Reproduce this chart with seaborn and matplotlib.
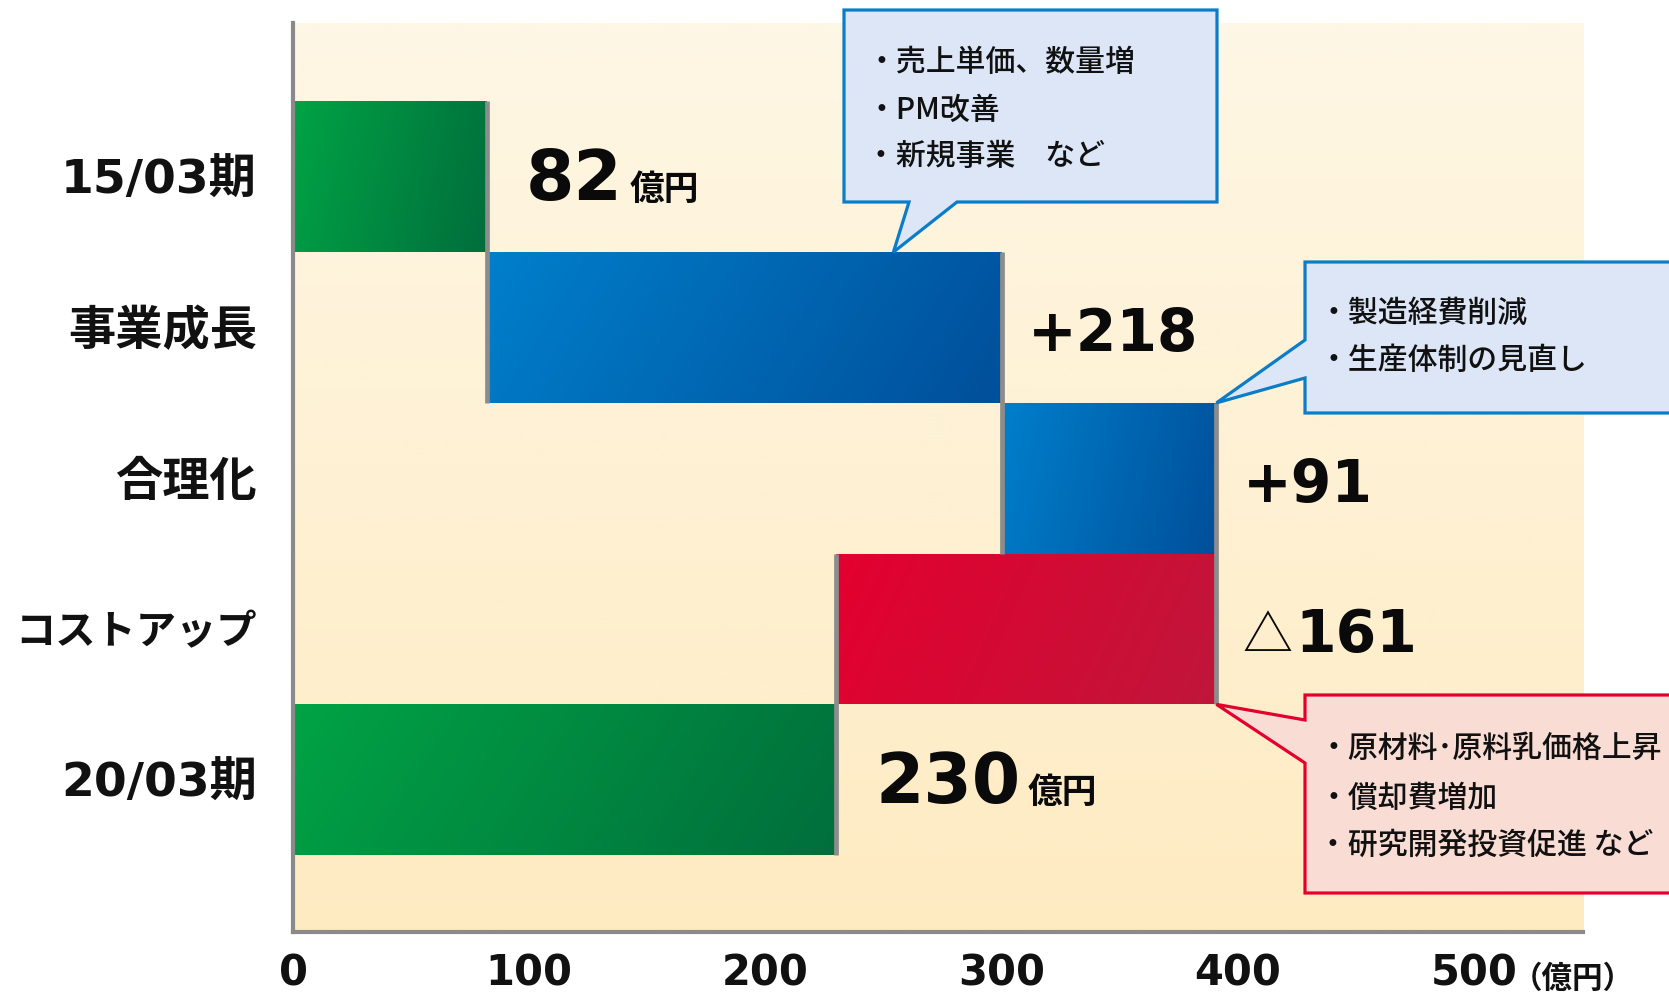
import numpy as np
import pandas as pd
import matplotlib
matplotlib.use("Agg")
import matplotlib.pyplot as plt
from matplotlib import font_manager
from matplotlib.colors import LinearSegmentedColormap
from matplotlib.patches import Polygon
import seaborn as sns

# ---- data -------------------------------------------------------------
categories = ["15/03期", "事業成長", "合理化", "コストアップ", "20/03期"]
amounts = [82, 218, 91, -161, 230]
kinds = ["total", "change", "change", "change", "total"]
x_ticks = [0, 100, 200, 300, 400, 500]
unit = "億円"

notes_growth = ["・売上単価、数量増", "・PM改善", "・新規事業　など"]
notes_rational = ["・製造経費削減", "・生産体制の見直し"]
notes_cost = ["・原材料･原料乳価格上昇", "・償却費増加", "・研究開発投資促進 など"]

# ---- waterfall geometry from the amounts --------------------------------
starts, ends = [], []
level = 0
for amt, kind in zip(amounts, kinds):
    if kind == "total":
        s, e = 0, amt
    else:
        s, e = level, level + amt
    level = e
    starts.append(s)
    ends.append(e)
lows = [min(s, e) for s, e in zip(starts, ends)]
highs = [max(s, e) for s, e in zip(starts, ends)]
running = ends[:-1]  # connector levels between consecutive rows


def value_text(amt, kind):
    if kind == "total":
        return f"{amt}"
    return f"+{amt}" if amt > 0 else f"{abs(amt)}"


# medium weight for the note text when the CJK family provides it
cjk_weights = {f.weight for f in font_manager.fontManager.ttflist
               if f.name == "Noto Sans CJK JP"}
NOTE_WEIGHT = 500 if 500 in cjk_weights or "medium" in cjk_weights else "bold"

# ---- figure -------------------------------------------------------------
W, H = 1669, 994
sns.set_theme(style="white")
plt.rcParams["font.family"] = ["DejaVu Sans", "Noto Sans CJK JP"]
JP = ["Noto Sans CJK JP", "DejaVu Sans"]
MIX = ["DejaVu Sans", "Noto Sans CJK JP"]

fig = plt.figure(figsize=(W / 100, H / 100), dpi=100)
fig.patch.set_facecolor("white")
ax = fig.add_axes([293 / W, 1 - 932 / H, (1583 - 293) / W, (932 - 23) / H])

df = pd.DataFrame({"item": categories, "high": highs})
sns.barplot(data=df, x="high", y="item", order=categories, orient="h",
            width=1.0, color="#cccccc", ax=ax, zorder=2)

XMAX, YTOP, YBOT = 546.2, -1.02, 5.01
ax.set_xlim(0, XMAX)
ax.set_ylim(YBOT, YTOP)

# cream background gradient
bg_cmap = LinearSegmentedColormap.from_list("bg", ["#FEF7E5", "#FEEBC2"])
bg = bg_cmap(np.linspace(0, 1, 256))[:, None, :]
ax.imshow(bg, extent=(0, 1, 0, 1), transform=ax.transAxes, origin="upper",
          aspect="auto", zorder=0, interpolation="bilinear")

grad_colors = {
    "total": ("#00A345", "#006E3C"),
    "up": ("#007FCB", "#004F9A"),
    "down": ("#E4002F", "#C0163A"),
}

u = np.linspace(0, 1, 256)[None, :]
v = np.linspace(0, 1, 64)[:, None]
tmix = 0.85 * u + 0.15 * v

for i, patch in enumerate(ax.patches[:len(categories)]):
    patch.set_x(lows[i])
    patch.set_width(highs[i] - lows[i])
    patch.set_facecolor("none")
    patch.set_edgecolor("none")
    if kinds[i] == "total":
        key = "total"
    else:
        key = "up" if amounts[i] > 0 else "down"
    cmap = LinearSegmentedColormap.from_list(key, grad_colors[key])
    y0 = patch.get_y()
    h = patch.get_height()
    im = ax.imshow(cmap(tmix), extent=(lows[i], highs[i], y0 + h, y0),
                   origin="upper", aspect="auto", zorder=2,
                   interpolation="bilinear")
    im.set_clip_path(patch)

ax.set_xlim(0, XMAX)
ax.set_ylim(YBOT, YTOP)

# grey connectors between consecutive bars
for i, lev in enumerate(running):
    ax.vlines(lev, i - 0.5, i + 1.5, color="#8C8C8C", lw=3.4, zorder=3)

# spines / ticks
sns.despine(ax=ax, top=True, right=True)
for side in ("left", "bottom"):
    ax.spines[side].set_color("#8A8A8A")
    ax.spines[side].set_linewidth(3.0)
    ax.spines[side].set_zorder(4)
ax.set_xlabel("")
ax.set_ylabel("")
ax.set_xticks(x_ticks)
ax.set_xticklabels([str(t) for t in x_ticks])
ax.tick_params(axis="x", length=0, pad=15, labelsize=30)
ax.tick_params(axis="y", length=0, pad=26)
for lbl in ax.get_xticklabels():
    lbl.set_fontweight("bold")
    lbl.set_family(MIX)
    lbl.set_color("#111111")
for lbl in ax.get_yticklabels():
    lbl.set_family(MIX)
    lbl.set_fontweight("bold")
    lbl.set_color("#111111")
    lbl.set_fontsize(29 if lbl.get_text() == "コストアップ" else 34)

# unit next to the last tick label
ax.annotate("（億円）", xy=(x_ticks[-1], 0), xycoords=("data", "axes fraction"),
            xytext=(27, -34), textcoords="offset points", ha="left", va="center",
            fontsize=22, fontweight="bold", family=JP, color="#111111",
            annotation_clip=False)

# value labels
for i, (amt, kind) in enumerate(zip(amounts, kinds)):
    ybase = i + 0.155
    if kind == "total":
        t = ax.annotate(value_text(amt, kind), xy=(highs[i], ybase),
                        xytext=(28, 0), textcoords="offset points",
                        ha="left", va="baseline", fontsize=50,
                        fontweight="bold", family=MIX, color="#0A0A0A",
                        zorder=5)
        ax.annotate(unit, xy=(1, ybase), xycoords=(t, "data"),
                    xytext=(5, 0), textcoords="offset points",
                    ha="left", va="baseline", fontsize=25, fontweight="bold",
                    family=JP, color="#0A0A0A", zorder=5)
    elif amt > 0:
        ax.annotate(value_text(amt, kind), xy=(highs[i], ybase),
                    xytext=(19, 0), textcoords="offset points",
                    ha="left", va="baseline", fontsize=42,
                    fontweight="bold", family=MIX, color="#0A0A0A", zorder=5)
    else:
        tri = ax.annotate("△", xy=(highs[i], ybase),
                          xytext=(19, 0), textcoords="offset points",
                          ha="left", va="baseline", fontsize=36,
                          fontweight="normal", family=JP, color="#0A0A0A",
                          zorder=5)
        ax.annotate(value_text(amt, kind), xy=(1, ybase), xycoords=(tri, "data"),
                    xytext=(2, 0), textcoords="offset points",
                    ha="left", va="baseline", fontsize=42,
                    fontweight="bold", family=MIX, color="#0A0A0A", zorder=5)

# ---- callouts -------------------------------------------------------------
to_fig = ax.transData + fig.transFigure.inverted()


def fpx(x, y):
    return (x / W, 1 - y / H)


def callout(box, tail, tip_data, face, edge, lines, text_x, text_ys):
    x0, y0, x1, y1 = box
    tip = tuple(to_fig.transform(tip_data))
    side, a, b = tail
    if side == "bottom":
        pts = [fpx(x0, y0), fpx(x1, y0), fpx(x1, y1), fpx(b, y1), tip,
               fpx(a, y1), fpx(x0, y1)]
    else:
        pts = [fpx(x0, y0), fpx(x1, y0), fpx(x1, y1), fpx(x0, y1),
               fpx(x0, b), tip, fpx(x0, a)]
    poly = Polygon(pts, closed=True, transform=fig.transFigure,
                   facecolor=face, edgecolor=edge, lw=2.3, joinstyle="miter",
                   zorder=5)
    fig.add_artist(poly)
    for line, ty in zip(lines, text_ys):
        fx, fy = fpx(text_x, ty)
        fig.text(fx, fy, line, ha="left", va="center", fontsize=21.5,
                 family=JP, fontweight=NOTE_WEIGHT, color="#111111", zorder=6)


callout((844, 10, 1217, 202), ("bottom", 909, 957),
        (lows[1] + 0.79 * (highs[1] - lows[1]), 0.5),
        "#DCE6F6", "#0A7CC8", notes_growth, 866, [62, 110, 157])
callout((1305, 262, 1710, 413), ("left", 340, 378),
        (highs[2], 1.5),
        "#DCE6F6", "#0A7CC8", notes_rational, 1318, [313, 360])
callout((1305, 695, 1710, 893), ("left", 720, 763),
        (highs[3], 3.5),
        "#F9DDD5", "#E2002D", notes_cost, 1318, [748, 798, 845])

fig.savefig("out.png", dpi=100, facecolor="white")
